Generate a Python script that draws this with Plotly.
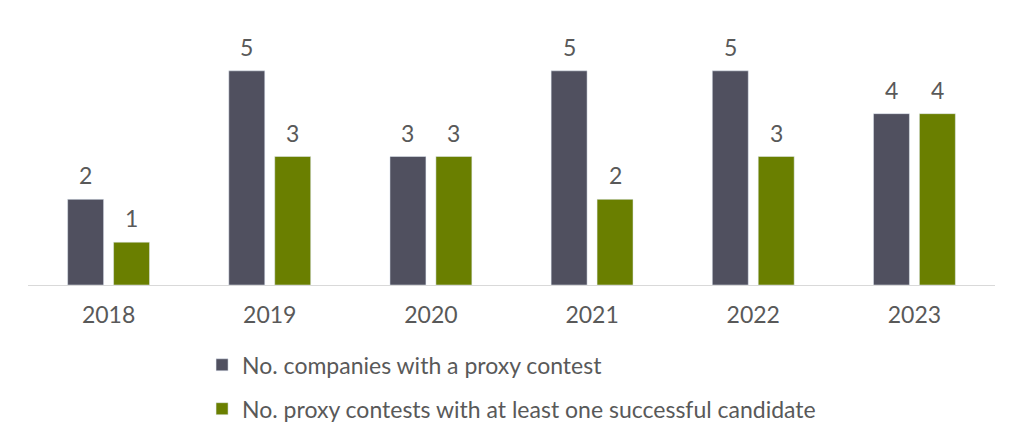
import plotly.graph_objects as go

# --- Data ---
YEARS = ["2018", "2019", "2020", "2021", "2022", "2023"]
COMPANIES = [2, 5, 3, 5, 5, 4]        # No. companies with a proxy contest
SUCCESSFUL = [1, 3, 3, 2, 3, 4]       # No. proxy contests with >= 1 successful candidate

DARK = "#50505f"
GREEN = "#6a7f00"
TEXT = "#595959"
FONT = "Lato, 'Open Sans', sans-serif"
FS = 23

fig = go.Figure()
fig.add_trace(go.Bar(x=YEARS, y=COMPANIES, name="No. companies with a proxy contest",
                     marker_color=DARK, legendgroup="a"))
fig.add_trace(go.Bar(x=YEARS, y=SUCCESSFUL,
                     name="No. proxy contests with at least one successful candidate",
                     marker_color=GREEN, legendgroup="b"))

# value labels above bars (x as category index; "2018" would be read as a number)
for vals, shift in [(COMPANIES, -23), (SUCCESSFUL, 23)]:
    for i, v in enumerate(vals):
        fig.add_annotation(x=i, y=v, text=str(v), showarrow=False,
                           xshift=shift, yshift=8, yanchor="bottom",
                           font=dict(size=FS, color=TEXT, family=FONT))

# page body adds 8px, so margins are offset to compensate
fig.update_layout(
    width=1024, height=443,
    margin=dict(l=20, r=37, t=20, b=166),
    paper_bgcolor="white", plot_bgcolor="white",
    barmode="group", bargap=0.43, bargroupgap=0.217,
    font=dict(family=FONT, size=FS, color=TEXT),
    showlegend=True,
    legend=dict(x=0.18, y=-0.227, xanchor="left", yanchor="top",
                orientation="v", tracegroupgap=11,
                font=dict(size=FS, color=TEXT, family=FONT)),
)
fig.update_xaxes(type="category", showline=True, linecolor="#d9d9d9", linewidth=1,
                 ticks="outside", ticklen=9, tickcolor="rgba(0,0,0,0)",
                 tickfont=dict(size=FS, color=TEXT, family=FONT))
fig.update_yaxes(range=[0, 6], visible=False)

fig.write_html("out.html")
